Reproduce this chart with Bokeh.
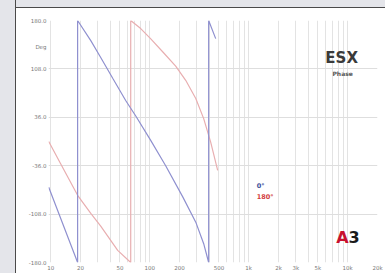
from bokeh.plotting import figure
from bokeh.models import FixedTicker, Range1d
from bokeh.embed import file_html
from bokeh.resources import INLINE
from bokeh.core.properties import value

# ---- data (frequency in Hz, phase in degrees) ----
freq_0deg = [9.55, 18.7, 18.7, 25.4, 32.0, 42.3, 57.2, 72.3, 102, 145, 215, 292, 351, 394, 394, 464]
phase_0deg = [-68, -180, 180, 150, 125, 94, 61, 38, 2, -36, -82, -120, -152, -180, 180, 153]

freq_180deg = [9.55, 12.6, 18.7, 25.4, 32.0, 47.5, 64.3, 64.3, 81.1, 102, 138, 183, 231, 292, 351, 413, 486]
phase_180deg = [0, -33, -80, -107, -126, -162, -180, 180, 168, 153, 132, 112, 91, 64, 34, -1, -43]

x_major_ticks = [10, 20, 50, 100, 200, 500, 1000, 2000, 3000, 5000, 10000, 20000]
x_major_labels = ["10", "20", "50", "100", "200", "500", "1k", "2k", "3k", "5k", "10k", "20k"]
y_ticks = [-180.0, -108.0, -36.0, 36.0, 108.0, 180.0]
y_labels = ["-180.0", "-108.0", "-36.0", "36.0", "108.0", "180.0"]
y_unit = "Deg"
y_unit_pos = 141.3

series_labels = ["0°", "180°"]
title_text = "ESX"
subtitle_text = "Phase"

BLUE = "#8f90cf"
RED = "#e8aeb0"

p = figure(width=385, height=273, x_axis_type="log",
           x_range=Range1d(9.5, 20000), y_range=Range1d(-180, 180),
           output_backend="svg", toolbar_location=None,
           min_border_left=48, min_border_right=8, min_border_top=20, min_border_bottom=11)

p.background_fill_color = "white"
p.border_fill_color = None
p.outline_line_color = None
p.styles = {
    "background": "linear-gradient(to right, #e4e5ea 15px, #4a4a4a 15px, #4a4a4a 16px, rgba(0,0,0,0) 16px), "
                  "linear-gradient(to bottom, #e4e5ea 7px, #4a4a4a 7px, #4a4a4a 8px, #ffffff 8px)"
}

# grid lines: all 1..9 multiples of decades
grid_x = []
for dec in [1, 10, 100, 1000, 10000]:
    for n in range(1, 10):
        v = n * dec
        if 9.5 <= v <= 20000:
            grid_x.append(v)
p.xgrid.ticker = FixedTicker(ticks=grid_x)
p.xgrid.grid_line_color = "#e3e3e3"
p.xgrid.grid_line_width = 1
p.ygrid.ticker = FixedTicker(ticks=y_ticks)
p.ygrid.grid_line_color = "#dedede"

# axes
p.xaxis.ticker = FixedTicker(ticks=x_major_ticks)
p.xaxis.major_label_overrides = {t: l for t, l in zip(x_major_ticks, x_major_labels)}
p.yaxis.ticker = FixedTicker(ticks=y_ticks + [y_unit_pos])
ov = {t: l for t, l in zip(y_ticks, y_labels)}
ov[y_unit_pos] = y_unit
p.yaxis.major_label_overrides = ov
for ax in (p.xaxis, p.yaxis):
    ax.axis_line_color = None
    ax.major_tick_line_color = None
    ax.minor_tick_line_color = None
    ax.major_tick_in = 0
    ax.major_tick_out = 0
    ax.minor_tick_in = 0
    ax.minor_tick_out = 0
    ax.major_label_text_font_size = "5.5px"
    ax.major_label_text_color = "#777777"
    ax.major_label_text_font = "DejaVu Sans"
    ax.major_label_standoff = 2

# curves
p.line(freq_180deg, phase_180deg, line_color=RED, line_width=1.2)
p.line(freq_0deg, phase_0deg, line_color=BLUE, line_width=1.2)

# title block
p.text(x=[8690], y=[123.5], text=[title_text], text_font=value("DejaVu Sans"),
       text_font_size="15px", text_font_style="bold", text_color="#3a3a3a",
       text_align="center", text_baseline="middle")
p.text(x=[8890], y=[101], text=[subtitle_text], text_font=value("DejaVu Sans"),
       text_font_size="6px", text_font_style="bold", text_color="#555555",
       text_align="center", text_baseline="middle")

# series labels
p.text(x=[1205], y=[-65.5], text=[series_labels[0]], text_font=value("DejaVu Sans"),
       text_font_size="6.5px", text_font_style="bold", text_color="#3d4f9a",
       text_align="left", text_baseline="middle")
p.text(x=[1205], y=[-83.3], text=[series_labels[1]], text_font=value("DejaVu Sans"),
       text_font_size="6.5px", text_font_style="bold", text_color="#d23c3c",
       text_align="left", text_baseline="middle")

# A3 logo
p.text(x=[10200], y=[-142.8], text=["A"], text_font=value("DejaVu Sans"),
       text_font_size="16px", text_font_style="bold", text_color="#c8102e",
       text_align="right", text_baseline="middle")
p.text(x=[10200], y=[-142.8], text=["3"], text_font=value("DejaVu Sans"),
       text_font_size="16px", text_font_style="bold", text_color="#1a1a1a",
       text_align="left", text_baseline="middle")

open("out.html", "w").write(file_html(p, INLINE))
